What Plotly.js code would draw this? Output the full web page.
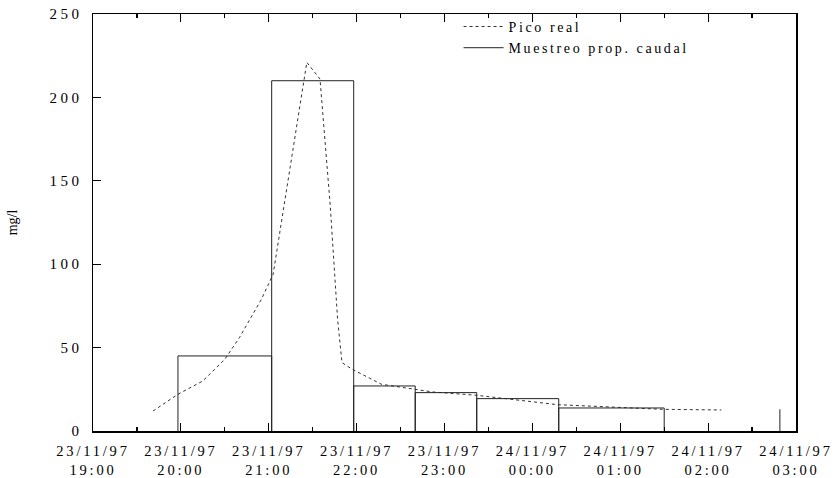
<!DOCTYPE html>
<html>
<head>
<meta charset="utf-8">
<script src="https://cdn.plot.ly/plotly-3.0.1.min.js"></script>
<style>
html,body{margin:0;padding:0;background:#fff;}
#chart{width:834px;height:478px;}
.xtick text{letter-spacing:2.8px;}
.ytick text{letter-spacing:3.5px;}
.legendtext{letter-spacing:2.6px;}
</style>
</head>
<body>
<div id="chart"></div>
<script>
// Pico real (dotted curve)
const picoTimes = [
  '1997-11-23 19:41','1997-11-23 19:58','1997-11-23 20:15','1997-11-23 20:30',
  '1997-11-23 20:40','1997-11-23 20:47','1997-11-23 20:55','1997-11-23 21:03',
  '1997-11-23 21:08','1997-11-23 21:14','1997-11-23 21:23',
  '1997-11-23 21:26','1997-11-23 21:35','1997-11-23 21:42','1997-11-23 21:47',
  '1997-11-23 21:50','1997-11-23 21:57','1997-11-23 22:17','1997-11-23 22:52',
  '1997-11-23 23:22','1997-11-24 00:17','1997-11-24 01:29','1997-11-24 02:09'
];
const picoValues = [12, 22, 30, 43, 56, 67, 79, 94, 122, 155, 207, 221, 211, 135, 67, 41, 37, 28, 23.4, 21.4, 15.8, 13, 12.6];

// Muestreo proporcional al caudal (step bars)
const muestreoEdges = [
  '1997-11-23 19:58','1997-11-23 21:02','1997-11-23 21:58','1997-11-23 22:40',
  '1997-11-23 23:22','1997-11-24 00:18','1997-11-24 01:30'
];
const muestreoValues = [45, 210, 27, 23, 19.4, 13.8];
const ultimaMuestraTime = '1997-11-24 02:49';
const ultimaMuestraValue = 13;

const tickTimes = [
  '1997-11-23 19:00','1997-11-23 20:00','1997-11-23 21:00','1997-11-23 22:00',
  '1997-11-23 23:00','1997-11-24 00:00','1997-11-24 01:00','1997-11-24 02:00','1997-11-24 03:00'
];
const tickLabels = [
  '23/11/97<br>19:00','23/11/97<br>20:00','23/11/97<br>21:00','23/11/97<br>22:00',
  '23/11/97<br>23:00','24/11/97<br>00:00','24/11/97<br>01:00','24/11/97<br>02:00','24/11/97<br>03:00'
];

// build outline of step bars
const stepX = [], stepY = [];
for (let i = 0; i < muestreoValues.length; i++) {
  stepX.push(muestreoEdges[i], muestreoEdges[i], muestreoEdges[i+1], muestreoEdges[i+1]);
  stepY.push(0, muestreoValues[i], muestreoValues[i], 0);
}
stepX.push(null, ultimaMuestraTime, ultimaMuestraTime);
stepY.push(null, 0, ultimaMuestraValue);

const font = {family: '"Liberation Serif", "Times New Roman", serif', color: '#000'};

const traces = [
  {x: picoTimes, y: picoValues, type: 'scatter', mode: 'lines', name: 'Pico real',
   line: {color: '#333', width: 1, dash: '3px,3px'}},
  {x: stepX, y: stepY, type: 'scatter', mode: 'lines', name: 'Muestreo prop. caudal',
   connectgaps: false, line: {color: '#222', width: 1}}
];

const layout = {
  width: 834, height: 478,
  margin: {l: 93, r: 38, t: 13, b: 47},
  paper_bgcolor: '#fff', plot_bgcolor: '#fff',
  font: Object.assign({size: 15}, font),
  showlegend: true,
  legend: {x: 0.52, y: 1.005, xanchor: 'left', yanchor: 'top', bgcolor: 'rgba(0,0,0,0)',
           font: Object.assign({size: 14}, font), tracegroupgap: 0, itemwidth: 40},
  xaxis: {
    type: 'date', range: ['1997-11-23 19:00', '1997-11-24 03:00'],
    tickmode: 'array', tickvals: tickTimes, ticktext: tickLabels,
    ticks: 'inside', ticklen: 8, tickwidth: 1.2, tickcolor: '#000',
    minor: {tickmode: 'linear', tick0: '1997-11-23 19:30', dtick: 3600000, ticks: 'inside', ticklen: 4, tickcolor: '#000', showgrid: false},
    showline: true, linecolor: '#000', linewidth: 1.5, mirror: 'ticks',
    showgrid: false, zeroline: false,
    ticklabelstandoff: 6,
    tickfont: Object.assign({size: 14.5}, font)
  },
  yaxis: {
    range: [0, 250], dtick: 50, tick0: 0,
    ticks: 'inside', ticklen: 8, tickwidth: 1.2, tickcolor: '#000',
    showline: true, linecolor: '#000', linewidth: 1.5, mirror: true,
    showgrid: false, zeroline: false,
    tickfont: Object.assign({size: 15}, font),
    ticklabelstandoff: 6,
    title: {text: 'mg/l', font: Object.assign({size: 14}, font), standoff: 28}
  }
};

Plotly.newPlot('chart', traces, layout, {staticPlot: true, displayModeBar: false});
</script>
</body>
</html>
